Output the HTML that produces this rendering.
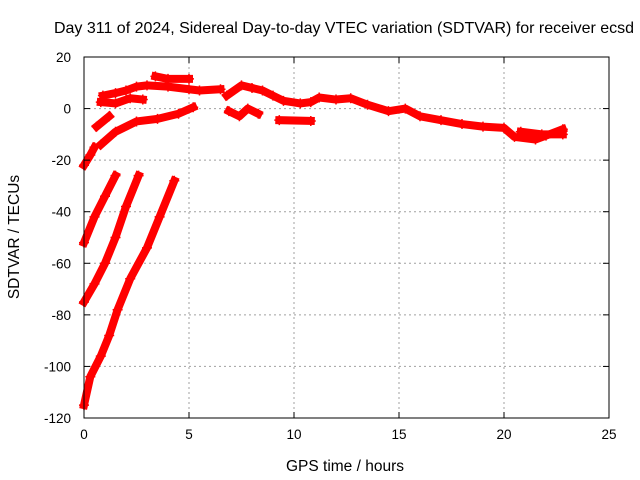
<!DOCTYPE html>
<html><head><meta charset="utf-8"><style>body{margin:0;background:#fff}svg{display:block;font-family:"Liberation Sans",sans-serif}</style></head>
<body>
<svg id="chart" width="640" height="480" xmlns="http://www.w3.org/2000/svg">
<text x="344" y="33" font-size="16" text-anchor="middle">Day 311 of 2024, Sidereal Day-to-day VTEC variation (SDTVAR) for receiver ecsd</text>
<text transform="translate(19,237) rotate(-90)" font-size="15.5" text-anchor="middle">SDTVAR / TECUs</text>
<text x="345" y="471" font-size="15.5" text-anchor="middle">GPS time / hours</text>
<g id="grid"></g><g id="marks"></g><g id="axes"></g>
</svg>
<script>
const xTicks=[0,5,10,15,20,25];
const yTicks=[20,0,-20,-40,-60,-80,-100,-120];
const seriesNames=["init","lineA","lineB","lineC","upperBand","topShort","secondBand","shortMid","lowBand","mid","midDip","low10","main"];
const init=[[0,-22],[0.3,-18],[0.5,-15]];
const lineA=[[0,-52],[0.5,-42],[1,-34],[1.5,-26]];
const lineB=[[0,-75],[0.5,-68],[1,-60],[1.5,-50],[2,-38],[2.6,-26]];
const lineC=[[0,-115],[0.3,-104],[0.8,-96],[1.2,-88],[1.6,-78],[2.2,-66],[3,-54],[3.6,-42],[4.3,-28]];
const upperBand=[[0.9,5],[1.5,6],[2,7],[2.5,8.5],[3,9],[4,8.5],[5,7.5],[5.5,7],[6.5,7.5]];
const topShort=[[3.4,12.5],[4,11.5],[5,11.5]];
const secondBand=[[0.8,2.5],[1.5,2],[2.2,4],[2.8,3.5]];
const shortMid=[[0.6,-7],[1.2,-3]];
const lowBand=[[0.8,-14],[1.5,-9],[2.5,-5],[3.5,-4],[4.5,-2],[5.2,0.5]];
const mid=[[6.8,5],[7.5,9],[8,8],[8.5,7],[9,5],[9.5,3],[10.3,2],[10.8,2.5],[11.2,4.3],[12,3.5],[12.7,4],[13.5,1.5],[14.5,-1],[15.3,0],[16,-3],[17,-4.5],[18,-6],[19,-7],[20,-7.5],[20.5,-11],[21.5,-12],[22,-10.5],[22.8,-8]];
const midDip=[[6.9,-1],[7.4,-3],[7.8,0],[8.3,-2]];
const low10=[[9.3,-4.5],[10.8,-4.8]];
const main=[[20.8,-9],[21.8,-10],[22.8,-10]];
const X0=84,X1=609,Y0=57,Y1=418,XMAX=25,YMIN=-120,YMAX=20;
const xs=v=>X0+(v/XMAX)*(X1-X0);
const ys=v=>Y0+(YMAX-v)/(YMAX-YMIN)*(Y1-Y0);
const NS="http://www.w3.org/2000/svg";
function mk(t,a,p){const e=document.createElementNS(NS,t);for(const k in a)e.setAttribute(k,a[k]);p.appendChild(e);return e;}
const grid=document.getElementById('grid'),axes=document.getElementById('axes'),marks=document.getElementById('marks');
xTicks.forEach(t=>{const x=xs(t);
 if(t>0&&t<XMAX){const g=mk('line',{x1:x,x2:x,y1:Y0,y2:Y1,stroke:'#a0a0a0','stroke-dasharray':'2,3'},grid);}
 mk('line',{x1:x,x2:x,y1:Y1,y2:Y1-6,stroke:'#000'},axes);mk('line',{x1:x,x2:x,y1:Y0,y2:Y0+6,stroke:'#000'},axes);
 const l=mk('text',{x:x,y:Y1+21,'font-size':13.5,'text-anchor':'middle'},axes);l.textContent=t;
 
 });
yTicks.forEach(t=>{const y=ys(t);
 if(t>YMIN&&t<YMAX){const g=mk('line',{x1:X0,x2:X1,y1:y,y2:y,stroke:'#a0a0a0','stroke-dasharray':'2,3'},grid);}
 mk('line',{x1:X0,x2:X0+6,y1:y,y2:y,stroke:'#000'},axes);mk('line',{x1:X1,x2:X1-6,y1:y,y2:y,stroke:'#000'},axes);
 const l=mk('text',{x:X0-13,y:y+5,'font-size':13.5,'text-anchor':'end'},axes);l.textContent=t;
 
 });
const fr=mk('rect',{x:X0,y:Y0,width:X1-X0,height:Y1-Y0,fill:'none',stroke:'#000'},axes);


const all={init,lineA,lineB,lineC,upperBand,topShort,secondBand,shortMid,lowBand,mid,midDip,low10,main};
seriesNames.forEach(n=>{const d=all[n];
 const g=mk('g',{},marks);
 
 
 mk('polyline',{points:d.map(p=>xs(p[0])+','+ys(p[1])).join(' '),fill:'none',stroke:'#f00','stroke-width':8,'stroke-linejoin':'round','stroke-linecap':'square'},g);
 d.forEach(p=>{const x=xs(p[0]),y=ys(p[1]);
  const m=mk('path',{d:`M${x-5},${y}H${x+5}M${x},${y-5}V${y+5}`,stroke:'#f00','stroke-width':1.5},g);
  
  });
});
</script>
</body></html>
